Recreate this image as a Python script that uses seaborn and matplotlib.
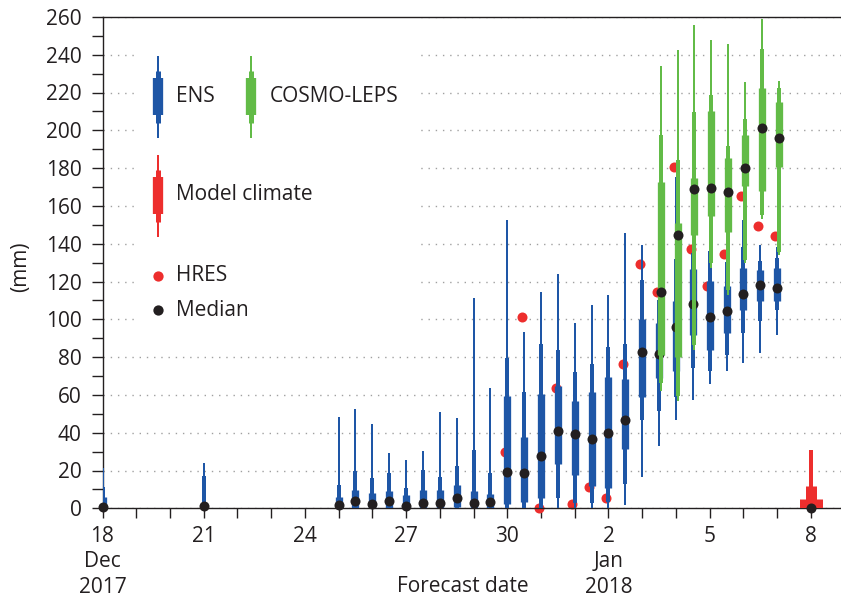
import numpy as np
import pandas as pd
import matplotlib
matplotlib.use("Agg")
import matplotlib.pyplot as plt
from matplotlib.patches import Rectangle
import seaborn as sns

# ---------------- data ----------------
ens_dates = ["2017-12-18 00:00", "2017-12-21 00:00",
             "2017-12-25 00:00", "2017-12-25 12:00", "2017-12-26 00:00", "2017-12-26 12:00",
             "2017-12-27 00:00", "2017-12-27 12:00", "2017-12-28 00:00", "2017-12-28 12:00",
             "2017-12-29 00:00", "2017-12-29 12:00", "2017-12-30 00:00", "2017-12-30 12:00",
             "2017-12-31 00:00", "2017-12-31 12:00", "2018-01-01 00:00", "2018-01-01 12:00",
             "2018-01-02 00:00", "2018-01-02 12:00", "2018-01-03 00:00", "2018-01-03 12:00",
             "2018-01-04 00:00", "2018-01-04 12:00", "2018-01-05 00:00", "2018-01-05 12:00",
             "2018-01-06 00:00", "2018-01-06 12:00", "2018-01-07 00:00"]
ens_min = [0, 0, 0, 0, 0, 0, 0, 0, 0, 0, 0, 0, 0, 0, 0, 0, 0, 0, 0, 1.8,
           16.3, 32.7, 46.8, 57.4, 65.6, 72.4, 76.8, 82.1, 91.8]
ens_p10 = [0, 0, 0, 0, 0, 0, 0, 0, 0, 0, 0, 0, 0, 0, 0, 5.3, 2.6, 2.6, 3.5, 12.9,
           46.9, 51.3, 59.0, 74.2, 72.6, 81.2, 92.7, 98.9, 105.0]
ens_p25 = [0, 0, 0, 0, 0, 0, 0, 0, 0, 0.5, 0, 0, 2.3, 3.5, 5.3, 23.5, 17.6, 11.8, 10.6, 31.2,
           58.7, 68.9, 72.4, 91.5, 84.0, 92.8, 105.0, 109.6, 109.5]
ens_med = [0.5, 1.0, 1.8, 3.7, 2.3, 3.9, 1.4, 2.8, 3.0, 5.3, 2.8, 3.2, 19.4, 18.5, 27.7, 41.1,
           39.4, 36.5, 40.1, 46.8, 82.9, 81.5, 95.8, 108.1, 101.2, 104.2, 113.5, 118.4, 116.5]
ens_p75 = [6.1, 2.0, 5.8, 9.7, 8.3, 9.4, 7.1, 9.7, 9.7, 12.4, 9.2, 7.6, 59.5, 37.6, 60.3, 64.8,
           56.8, 61.4, 69.7, 68.5, 99.9, 98.0, 109.6, 126.8, 120.1, 117.4, 127.1, 126.0, 127.1]
ens_p90 = [11.4, 17.1, 12.4, 20.0, 15.9, 18.5, 10.6, 20.3, 16.8, 22.4, 30.9, 18.5, 79.4, 61.4,
           86.8, 83.8, 72.0, 76.4, 85.2, 86.8, 121.0, 110.0, 132.0, 135.0, 136.0, 130.3, 138.0,
           131.0, 132.5]
ens_max = [21.2, 24.1, 48.2, 52.6, 44.5, 29.5, 25.8, 30.5, 51.0, 47.6, 111.2, 63.5, 152.6, 93.5,
           114.3, 124.0, 97.9, 107.6, 112.9, 145.6, 139.3, 128.0, 175.5, 147.3, 148.0, 141.5,
           152.3, 139.4, 138.4]

cl_dates = ["2018-01-03 12:00", "2018-01-04 00:00", "2018-01-04 12:00", "2018-01-05 00:00",
            "2018-01-05 12:00", "2018-01-06 00:00", "2018-01-06 12:00", "2018-01-07 00:00"]
cl_min = [62, 57, 84, 127, 113, 130, 153, 134]
cl_p10 = [66.5, 59.2, 86.3, 129.7, 115.6, 131.5, 155.1, 135.8]
cl_p25 = [81.0, 80.3, 144.5, 154.8, 146.3, 170.4, 167.8, 180.7]
cl_med = [114.3, 144.6, 168.7, 169.6, 167.5, 179.8, 201.3, 195.8]
cl_p75 = [172.7, 150.7, 174.9, 210.0, 185.4, 197.4, 222.6, 215.0]
cl_p90 = [197.4, 184.2, 209.7, 218.5, 191.6, 206.2, 243.2, 222.6]
cl_max = [234.0, 242.3, 255.8, 247.6, 245.8, 225.6, 259.0, 226.1]

mc_dates = ["2018-01-08 00:00"]
mc_min = [0.0]
mc_p10 = [0.0]
mc_p25 = [0.0]
mc_med = [0.3]
mc_p75 = [4.9]
mc_p90 = [11.8]
mc_max = [30.8]

hres_dates = ["2017-12-30 00:00", "2017-12-30 12:00", "2017-12-31 00:00", "2017-12-31 12:00",
              "2018-01-01 00:00", "2018-01-01 12:00", "2018-01-02 00:00", "2018-01-02 12:00",
              "2018-01-03 00:00", "2018-01-03 12:00", "2018-01-04 00:00", "2018-01-04 12:00",
              "2018-01-05 00:00", "2018-01-05 12:00", "2018-01-06 00:00", "2018-01-06 12:00",
              "2018-01-07 00:00"]
hres_vals = [30.0, 101.1, 0.0, 63.5, 2.3, 11.5, 5.3, 76.4, 129.5, 114.7, 180.7, 137.0,
             117.6, 134.6, 165.2, 149.3, 143.9]

tick_dates = ["2017-12-18", "2017-12-21", "2017-12-24", "2017-12-27", "2017-12-30",
              "2018-01-02", "2018-01-05", "2018-01-08"]
tick_labels = ["18\nDec\n2017", "21", "24", "27", "30", "2\nJan\n2018", "5", "8"]

# ---------------- style ----------------
sns.set_theme(style="ticks")
plt.rcParams['font.family'] = ['Open Sans', 'DejaVu Sans']
TXT = '#231f20'
BLUE = '#1e56a6'
GREEN = '#62bb47'
RED = '#ed2e2d'
MED = '#231f20'
FS = 15

W, H = 841, 600
L, R, T, B = 102.5, 841.0, 16.9, 508.3
PX_PER_DAY = 33.73
PT = 72.0 / 100.0

fig = plt.figure(figsize=(W / 100, H / 100), dpi=100)
ax = fig.add_axes([L / W, 1 - B / H, (R - L) / W, (B - T) / H])


def px2ax(x, y):
    return (x - L) / (R - L), (B - y) / (B - T)


def draw_boxes(dates, mn, p10, p25, md, p75, p90, mx, color, widths, z, shift_h=0.0):
    x = pd.to_datetime(dates) + pd.Timedelta(hours=shift_h)
    ax.vlines(x, mn, mx, colors=color, lw=widths[0] * PT, capstyle='butt', zorder=z)
    ax.vlines(x, p10, p90, colors=color, lw=widths[1] * PT, capstyle='butt', zorder=z)
    ax.vlines(x, p25, p75, colors=color, lw=widths[2] * PT, capstyle='butt', zorder=z)
    sns.scatterplot(x=x, y=md, color=MED, s=52, linewidth=0, zorder=z + 0.5,
                    clip_on=False, legend=False, ax=ax)


# HRES (behind everything)
sns.scatterplot(x=pd.to_datetime(hres_dates) - pd.Timedelta(hours=1.6), y=hres_vals,
                color=RED, s=52, linewidth=0, zorder=2, clip_on=False, legend=False, ax=ax)

draw_boxes(ens_dates, ens_min, ens_p10, ens_p25, ens_med, ens_p75, ens_p90, ens_max,
           BLUE, (2.0, 4.0, 7.3), 3)
draw_boxes(cl_dates, cl_min, cl_p10, cl_p25, cl_med, cl_p75, cl_p90, cl_max,
           GREEN, (2.0, 4.0, 7.3), 5, shift_h=1.2)
draw_boxes(mc_dates, mc_min, mc_p10, mc_p25, mc_med, mc_p75, mc_p90, mc_max,
           RED, (4.0, 11.0, 23.0), 3)

ax.set_xlabel("")
ax.set_ylabel("")

# ---------------- axes ----------------
x0 = pd.Timestamp("2017-12-18")
ax.set_xlim(x0, x0 + pd.Timedelta(days=(R - L) / PX_PER_DAY))
ax.set_ylim(0, 260)

days = pd.date_range("2017-12-18", "2018-01-09", freq="D")
lab_map = {pd.Timestamp(d): l for d, l in zip(tick_dates, tick_labels)}
ax.set_xticks(days)
ax.set_xticklabels([lab_map.get(d, "") for d in days], fontsize=FS, color=TXT,
                   linespacing=1.27)
ax.set_yticks(np.arange(0, 261, 20))
ax.set_yticks(np.arange(0, 261, 10), minor=True)
ax.set_yticklabels([str(v) for v in range(0, 261, 20)], fontsize=FS, color=TXT)

ax.tick_params(axis='x', which='major', direction='out', length=7.2, width=1.0,
               color=TXT, pad=5.5)
ax.tick_params(axis='y', which='both', direction='out', length=8, width=1.0,
               color=TXT, pad=7)
ax.tick_params(axis='x', which='minor', length=0)

for s in ('left', 'bottom', 'top'):
    ax.spines[s].set_color(TXT)
    ax.spines[s].set_linewidth(1.0)
ax.spines['right'].set_visible(False)

ax.set_axisbelow(True)
ax.yaxis.grid(True, which='major', color='#a0a0a0', linestyle=(0, (1.0, 4.2)), linewidth=1.0)
ax.xaxis.grid(False)

ax.text(*px2ax(21, 266.7), "(mm)", transform=ax.transAxes, rotation=90,
        ha='center', va='center', fontsize=FS, color=TXT)
ax.text(*px2ax(463.3, 587.0), "Forecast date", transform=ax.transAxes,
        ha='center', va='center', fontsize=FS, color=TXT, clip_on=False)

# ---------------- legend ----------------
rx0, ry0 = px2ax(136.7, 326)
rx1, ry1 = px2ax(416.7, 18)
ax.add_patch(Rectangle((rx0, ry0), rx1 - rx0, ry1 - ry0, transform=ax.transAxes,
                       facecolor='white', edgecolor='none', zorder=1))


def leg_box(xp, ys, color, widths):
    for (y0, y1), w in zip(ys, widths):
        a0 = px2ax(xp, y0)
        a1 = px2ax(xp, y1)
        ax.plot([a0[0], a1[0]], [a0[1], a1[1]], color=color, lw=w * PT,
                solid_capstyle='butt', transform=ax.transAxes, zorder=6)


box_ys = [(56, 137.7), (70.7, 122.7), (78.3, 115.0)]
leg_box(157.7, box_ys, BLUE, (2.0, 5.0, 10.3))
leg_box(250.7, box_ys, GREEN, (2.0, 5.0, 10.3))
leg_box(157.7, [(155, 236.7), (170, 221.7), (176.7, 214.3)], RED, (2.0, 5.0, 10.3))
for yp, c in ((275.7, RED), (310.0, MED)):
    ax.plot(*px2ax(157.7, yp), 'o', ms=7.4, mew=0, color=c, transform=ax.transAxes,
            zorder=6)

for xp, yp, t in ((176, 96.7, "ENS"), (269.3, 96.7, "COSMO-LEPS"),
                  (176, 195, "Model climate"), (176, 275.7, "HRES"), (176, 310, "Median")):
    ax.text(*px2ax(xp, yp), t, transform=ax.transAxes, ha='left', va='center',
            fontsize=FS, color=TXT, zorder=6)

ax.set_xlim(x0, x0 + pd.Timedelta(days=(R - L) / PX_PER_DAY))
ax.set_ylim(0, 260)

fig.savefig("out.png", dpi=100)
